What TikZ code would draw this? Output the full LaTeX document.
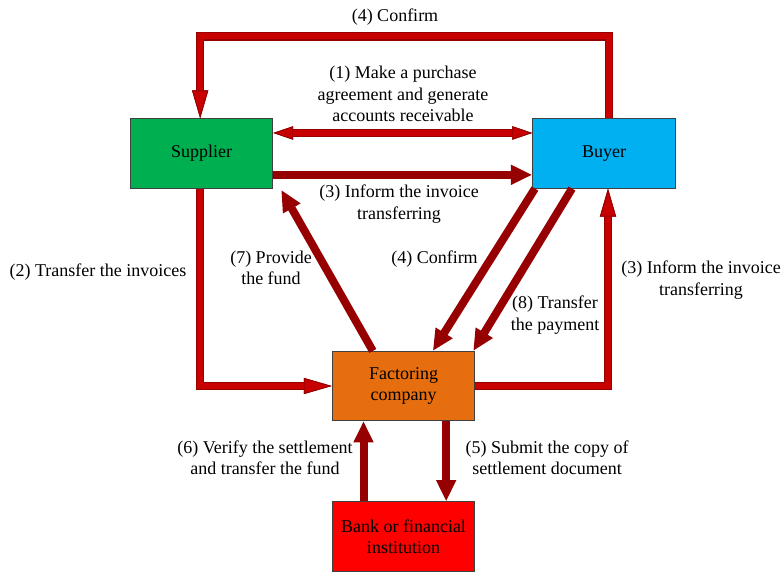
\documentclass[tikz,border=0pt]{standalone}
\usepackage{fontspec}
\setmainfont{Liberation Serif}
\usepackage{tikz}
\usetikzlibrary{arrows.meta, positioning, calc}
\definecolor{dkred}{RGB}{150,0,0}
\definecolor{bred}{RGB}{200,0,0}
\definecolor{suppgreen}{RGB}{0,176,80}
\definecolor{buyblue}{RGB}{0,176,240}
\definecolor{factorange}{RGB}{230,110,14}
\definecolor{bankred}{RGB}{255,0,0}

\begin{document}
\begin{tikzpicture}[
    x=0.75pt, y=-0.75pt,
    font=\fontsize{13.5}{16}\selectfont,
    ent/.style={rectangle, draw=black!75, line width=0.6pt, align=center,
                minimum width=107pt, minimum height=52pt, inner sep=2pt},
    lbl/.style={align=center, inner sep=1pt},
    oa/.style={line width=4.4pt, draw=bred,
               -{Triangle[length=21pt, width=12pt, fill=bred, color=dkred, line width=0.7pt]},
               preaction={draw=dkred, line width=6.2pt,
               -{Triangle[length=21pt, width=12pt, fill=bred, color=dkred, line width=0.7pt]}}},
    oda/.style={line width=4.4pt, draw=bred,
               {Triangle[length=15pt, width=10pt, fill=bred, color=dkred, line width=0.7pt]}-{Triangle[length=15pt, width=10pt, fill=bred, color=dkred, line width=0.7pt]},
               preaction={draw=dkred, line width=6.2pt,
               {Triangle[length=15pt, width=10pt, fill=bred, color=dkred, line width=0.7pt]}-{Triangle[length=15pt, width=10pt, fill=bred, color=dkred, line width=0.7pt]}}},
    fa/.style={draw=dkred, line width=6pt, -{Triangle[length=16pt, width=14pt]}},
]
\useasboundingbox (0,0) rectangle (782,573);

%% --- boxes ---
\node[ent, fill=suppgreen] (supp) at (201.5,153.5) {Supplier};
\node[ent, fill=buyblue] (buyer) at (604,153.5) {Buyer};
\node[ent, fill=factorange] (fact) at (403.5,386) {Factoring\\company};
\node[ent, fill=bankred] (bank) at (403.5,536.5) {Bank or financial\\institution};

%% --- outlined arrows ---
\draw[oa] ([xshift=3.75pt]buyer.north) -- ++(0,-82) -| ([xshift=-1pt]supp.north);
\draw[oda] ([yshift=15.4pt]supp.east) -- ([yshift=15.4pt]buyer.west);
\draw[oa] ([xshift=-1pt]supp.south) |- (fact.west);
\draw[oa] (fact.east) -| ([xshift=3pt]buyer.south);

%% --- solid arrows ---
\draw[fa] ([yshift=-16pt]supp.east) -- ([yshift=-16pt]buyer.west);
\draw[fa] ([xshift=-23pt]fact.north) -- ([xshift=6pt,yshift=-1pt]supp.south east);
\draw[fa] ([xshift=2pt]buyer.south west) -- ([xshift=22pt]fact.north);
\draw[fa] ([xshift=-24pt]buyer.south) -- ([xshift=-1.5pt]fact.north east);
\draw[fa] ([xshift=32pt]fact.south) -- ([xshift=32pt]bank.north);
\draw[fa] ([xshift=-30pt]bank.north) -- ([xshift=-30pt]fact.south);

%% --- labels ---
\node[lbl] (lconfirmtop) at (395,17) {(4) Confirm};
\node[lbl] (lagree) at (403,94) {(1) Make a purchase\\agreement and generate\\accounts receivable};
\node[lbl] (linform) at (399,204) {(3) Inform the invoice\\transferring};
\node[lbl] (ltransinv) at (98,272) {(2) Transfer the invoices};
\node[lbl] (lprovide) at (271,268) {(7) Provide\\the fund};
\node[lbl] (lconfirm) at (434.5,259) {(4) Confirm};
\node[lbl] (lpayment) at (555,315) {(8) Transfer\\the payment};
\node[lbl] (linformr) at (701,280) {(3) Inform the invoice\\transferring};
\node[lbl] (lverify) at (265,458) {(6) Verify the settlement\\and transfer the fund};
\node[lbl] (lsubmit) at (547,458) {(5) Submit the copy of\\settlement document};

\end{tikzpicture}
\end{document}
